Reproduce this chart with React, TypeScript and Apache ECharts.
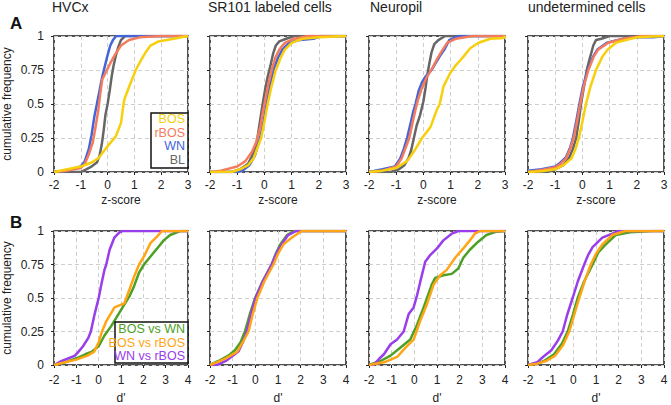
import React, { useEffect, useRef } from "react";
import * as echarts from "echarts";

const FONT = "'Liberation Sans', Arial, Helvetica, sans-serif";

// ---- labels ----
const panelTitles = ["HVCx", "SR101 labeled cells", "Neuropil", "undetermined cells"];
const zNames = ["BOS", "rBOS", "WN", "BL"];
const zColors = ["#F7CF0C", "#F47B5C", "#4465D9", "#666666"];
const dNames = ["BOS vs WN", "BOS vs rBOS", "WN vs rBOS"];
const dColors = ["#4CA025", "#FFA515", "#993EEA"];
const yTickLabels = ["0", "0.25", "0.5", "0.75", "1"];

// ---- Row A: z-score cumulative curves [x, y] ----
const hvcxBOS = [[-2,0],[-1.5,0.02],[-1,0.04],[-0.6,0.07],[-0.35,0.1],[0,0.19],[0.3,0.26],[0.5,0.36],[0.56,0.45],[0.62,0.53],[0.77,0.61],[0.93,0.69],[1.05,0.75],[1.24,0.82],[1.42,0.88],[1.6,0.93],[1.9,0.96],[2.46,0.98],[3,1]];
const hvcxRBOS = [[-2,0],[-1.5,0.01],[-1.0,0.03],[-0.85,0.06],[-0.7,0.13],[-0.55,0.22],[-0.45,0.33],[-0.35,0.45],[-0.27,0.58],[-0.2,0.68],[-0.05,0.74],[0.1,0.8],[0.3,0.87],[0.5,0.93],[0.8,0.97],[1.2,0.99],[2,1],[3,1]];
const hvcxWN = [[-2,0],[-1.5,0.01],[-1.0,0.04],[-0.85,0.08],[-0.7,0.17],[-0.6,0.27],[-0.5,0.4],[-0.4,0.5],[-0.3,0.6],[-0.2,0.7],[-0.1,0.78],[0,0.86],[0.1,0.93],[0.2,0.97],[0.32,1],[3,1]];
const hvcxBL = [[-2,0],[-1,0],[-0.8,0.02],[-0.6,0.04],[-0.4,0.07],[-0.3,0.12],[-0.22,0.2],[-0.15,0.3],[-0.08,0.42],[0,0.5],[0.08,0.6],[0.15,0.7],[0.22,0.78],[0.3,0.85],[0.4,0.92],[0.5,0.97],[0.65,1],[3,1]];

const sr101BOS = [[-2,0],[-1.2,0],[-0.9,0.02],[-0.6,0.05],[-0.4,0.1],[-0.25,0.18],[-0.12,0.25],[0,0.37],[0.12,0.5],[0.25,0.62],[0.42,0.75],[0.6,0.84],[0.75,0.9],[1.0,0.95],[1.4,0.98],[2,0.99],[3,1]];
const sr101RBOS = [[-2,0],[-1.6,0.01],[-1.0,0.04],[-0.7,0.08],[-0.45,0.15],[-0.3,0.22],[-0.15,0.33],[-0.05,0.45],[0.05,0.55],[0.15,0.65],[0.27,0.75],[0.4,0.84],[0.55,0.9],[0.75,0.95],[1.1,0.98],[1.6,1],[3,1]];
const sr101WN = [[-2,0],[-1.0,0],[-0.8,0.01],[-0.55,0.05],[-0.35,0.12],[-0.16,0.25],[-0.02,0.38],[0.08,0.5],[0.2,0.63],[0.33,0.75],[0.5,0.84],[0.66,0.9],[0.9,0.95],[1.3,0.97],[1.8,0.98],[2.1,1],[3,1]];
const sr101BL = [[-2,0],[-1.2,0],[-0.9,0.02],[-0.6,0.06],[-0.4,0.14],[-0.28,0.22],[-0.18,0.35],[-0.08,0.48],[0.02,0.6],[0.12,0.7],[0.22,0.78],[0.32,0.87],[0.42,0.93],[0.55,0.96],[0.8,0.98],[1.1,1],[3,1]];

const neuroBOS = [[-2,0],[-1.5,0.01],[-1,0.03],[-0.6,0.08],[-0.35,0.15],[-0.05,0.25],[0.26,0.33],[0.5,0.46],[0.6,0.5],[0.74,0.63],[0.99,0.73],[1.17,0.78],[1.35,0.82],[1.48,0.85],[1.72,0.91],[2.03,0.95],[2.46,0.98],[2.95,0.985],[3,1]];
const neuroRBOS = [[-2,0],[-1.5,0.01],[-1.0,0.04],[-0.8,0.1],[-0.65,0.18],[-0.52,0.25],[-0.4,0.36],[-0.3,0.45],[-0.2,0.53],[-0.05,0.62],[0.13,0.7],[0.32,0.76],[0.5,0.83],[0.62,0.87],[0.87,0.95],[1.2,0.98],[1.8,1],[3,1]];
const neuroWN = [[-2,0],[-1.5,0.02],[-1.05,0.04],[-0.85,0.1],[-0.72,0.17],[-0.6,0.25],[-0.48,0.35],[-0.38,0.44],[-0.29,0.5],[-0.17,0.6],[-0.05,0.66],[0.07,0.7],[0.3,0.75],[0.45,0.8],[0.6,0.85],[0.77,0.9],[0.95,0.97],[1.3,1],[3,1]];
const neuroBL = [[-2,0],[-1.2,0],[-0.9,0.02],[-0.7,0.05],[-0.55,0.1],[-0.45,0.16],[-0.35,0.25],[-0.25,0.34],[-0.12,0.42],[0,0.52],[0.08,0.62],[0.15,0.72],[0.22,0.8],[0.3,0.88],[0.4,0.94],[0.55,0.97],[0.8,1],[3,1]];

const undetBOS = [[-2,0],[-1.5,0.005],[-1,0.02],[-0.7,0.05],[-0.4,0.1],[-0.25,0.17],[-0.13,0.25],[0,0.37],[0.13,0.5],[0.3,0.63],[0.5,0.75],[0.74,0.85],[0.93,0.9],[1.23,0.95],[1.6,0.97],[2.0,0.99],[3,1]];
const undetRBOS = [[-2,0],[-1.5,0.015],[-1,0.035],[-0.8,0.06],[-0.6,0.1],[-0.45,0.17],[-0.32,0.25],[-0.2,0.37],[-0.08,0.5],[0.05,0.63],[0.22,0.75],[0.42,0.85],[0.58,0.9],[0.95,0.95],[1.5,0.98],[2.2,1],[3,1]];
const undetWN = [[-2,0.01],[-1.5,0.02],[-1,0.04],[-0.8,0.07],[-0.6,0.11],[-0.45,0.18],[-0.35,0.25],[-0.23,0.37],[-0.11,0.5],[0.02,0.63],[0.2,0.75],[0.4,0.85],[0.55,0.9],[0.9,0.95],[1.5,0.98],[2,0.99],[2.6,0.99],[3,1]];
const undetBL = [[-2,0],[-1.3,0],[-1,0.02],[-0.7,0.05],[-0.5,0.1],[-0.35,0.17],[-0.23,0.25],[-0.13,0.38],[-0.05,0.5],[0.05,0.62],[0.16,0.75],[0.25,0.82],[0.32,0.87],[0.4,0.93],[0.5,0.97],[0.7,0.98],[1.0,1],[3,1]];

// ---- Row B: d' cumulative curves [x, y] ----
const hvcxBW = [[-2,0],[-1.5,0.02],[-1,0.05],[-0.6,0.08],[-0.3,0.1],[0,0.14],[0.26,0.22],[0.56,0.29],[0.78,0.35],[1.07,0.43],[1.37,0.51],[1.59,0.59],[1.81,0.69],[2.03,0.75],[2.32,0.81],[2.62,0.87],[2.91,0.93],[3.2,0.97],[3.65,1],[4,1]];
const hvcxBR = [[-2,0],[-1.5,0.02],[-1,0.04],[-0.5,0.07],[-0.2,0.1],[0,0.17],[0.15,0.25],[0.35,0.33],[0.71,0.43],[1.15,0.46],[1.37,0.56],[1.59,0.66],[1.81,0.75],[2.03,0.81],[2.32,0.91],[2.62,0.96],[2.84,1],[4,1]];
const hvcxWR = [[-2,0],[-1.65,0.03],[-1.06,0.07],[-0.9,0.1],[-0.7,0.14],[-0.47,0.2],[-0.35,0.25],[-0.18,0.38],[0,0.5],[0.12,0.6],[0.26,0.71],[0.34,0.75],[0.49,0.86],[0.7,0.95],[0.93,0.99],[1.07,1],[4,1]];

const sr101BW = [[-2,0],[-1.63,0.03],[-1.19,0.07],[-0.9,0.11],[-0.65,0.17],[-0.46,0.25],[-0.25,0.375],[-0.01,0.5],[0.32,0.625],[0.72,0.75],[0.9,0.83],[1.1,0.9],[1.4,0.97],[1.7,1],[4,1]];
const sr101BR = [[-2,0],[-1.7,0.02],[-1.3,0.05],[-0.8,0.1],[-0.55,0.17],[-0.3,0.25],[-0.12,0.375],[0.09,0.5],[0.4,0.625],[0.8,0.75],[1.0,0.83],[1.24,0.9],[1.6,0.95],[2.05,1],[4,1]];
const sr101WR = [[-2,0],[-1.7,0],[-1.3,0.03],[-0.75,0.1],[-0.55,0.17],[-0.38,0.25],[-0.2,0.375],[0.01,0.5],[0.33,0.625],[0.72,0.75],[0.95,0.84],[1.16,0.9],[1.45,0.97],[1.8,1],[4,1]];

const neuroBW = [[-2,0],[-1.49,0.03],[-1.05,0.07],[-0.61,0.13],[-0.18,0.19],[0.12,0.3],[0.41,0.43],[0.77,0.6],[0.92,0.65],[1.28,0.67],[1.65,0.68],[1.94,0.72],[2.16,0.8],[2.45,0.86],[2.82,0.92],[3.18,0.97],[3.62,0.995],[4,1]];
const neuroBR = [[-2,0],[-1.34,0.02],[-0.76,0.06],[-0.39,0.13],[-0.03,0.19],[0.26,0.33],[0.55,0.45],[0.85,0.6],[1.14,0.67],[1.43,0.71],[1.8,0.8],[2.16,0.87],[2.45,0.93],[2.67,0.98],[2.9,1],[4,1]];
const neuroWR = [[-2,0],[-1.8,0],[-1.56,0.045],[-1.34,0.08],[-1.05,0.155],[-0.76,0.19],[-0.47,0.25],[-0.25,0.38],[-0.03,0.43],[0.12,0.52],[0.26,0.62],[0.48,0.77],[0.7,0.82],[1.0,0.87],[1.28,0.93],[1.65,0.98],[1.95,1],[4,1]];

const undetBW = [[-2,0],[-1.6,0.01],[-1.3,0.03],[-0.85,0.08],[-0.5,0.16],[-0.25,0.25],[-0.02,0.375],[0.19,0.5],[0.48,0.625],[0.85,0.75],[1.1,0.84],[1.43,0.9],[1.87,0.97],[2.5,0.99],[3.5,1],[4,1]];
const undetBR = [[-2,0],[-1.6,0.01],[-1.2,0.03],[-0.8,0.07],[-0.45,0.15],[-0.18,0.25],[0.04,0.375],[0.26,0.5],[0.5,0.625],[0.77,0.75],[1.0,0.83],[1.28,0.9],[1.72,0.97],[2.3,1],[4,1]];
const undetWR = [[-2,0],[-1.6,0.02],[-1.34,0.06],[-0.97,0.11],[-0.69,0.18],[-0.47,0.25],[-0.27,0.375],[-0.03,0.5],[0.2,0.625],[0.48,0.75],[0.65,0.82],[0.85,0.88],[1.28,0.95],[1.72,0.98],[2.0,1],[4,1]];

// curves per panel, in name order (BOS, rBOS, WN, BL) / (BOSvsWN, BOSvsrBOS, WNvsrBOS)
const rowACurves = [
  [hvcxBOS, hvcxRBOS, hvcxWN, hvcxBL],
  [sr101BOS, sr101RBOS, sr101WN, sr101BL],
  [neuroBOS, neuroRBOS, neuroWN, neuroBL],
  [undetBOS, undetRBOS, undetWN, undetBL],
];
const rowBCurves = [
  [hvcxBW, hvcxBR, hvcxWR],
  [sr101BW, sr101BR, sr101WR],
  [neuroBW, neuroBR, neuroWR],
  [undetBW, undetBR, undetWR],
];
const zDrawOrder = [3, 2, 1, 0];
const dDrawOrder = [0, 2, 1];

const colLeft = [52, 210, 369, 528];
const panelW = 136;
const rowTop = [36, 231];
const rowH = [136, 135];

function buildOption() {
  const grid: any[] = [];
  const xAxis: any[] = [];
  const yAxis: any[] = [];
  const series: any[] = [];
  const title: any[] = [];
  for (let r = 0; r < 2; r++) {
    for (let c = 0; c < 4; c++) {
      const idx = r * 4 + c;
      grid.push({
        left: colLeft[c], top: rowTop[r], width: panelW, height: rowH[r],
        show: true, borderColor: "#1a1a1a", borderWidth: 1.5, backgroundColor: "#fff",
        containLabel: false,
      });
      xAxis.push({
        type: "value", gridIndex: idx, min: -2, max: r === 0 ? 3 : 4, interval: 1,
        name: r === 0 ? "z-score" : "d'", nameLocation: "middle", nameGap: r === 0 ? 22 : 27,
        nameTextStyle: { fontFamily: FONT, fontSize: 12, color: "#222" },
        axisLine: { show: false, onZero: false },
        axisTick: { show: true, length: 3, inside: false, lineStyle: { color: "#222", width: 1 } },
        axisLabel: { fontFamily: FONT, fontSize: 12, color: "#222", margin: r === 0 ? 7 : 9 },
        splitLine: { show: true, lineStyle: { color: "#cfcfcf", type: [4, 3], width: 1 } },
      });
      yAxis.push({
        type: "value", gridIndex: idx, min: 0, max: 1, interval: 0.25,
        name: c === 0 ? "cumulative frequency" : "", nameLocation: "middle", nameGap: 41,
        nameTextStyle: { fontFamily: FONT, fontSize: 12, color: "#222" },
        axisLine: { show: false, onZero: false },
        axisTick: { show: true, length: 3, lineStyle: { color: "#222", width: 1 } },
        axisLabel: {
          show: c === 0, fontFamily: FONT, fontSize: 12, color: "#222", margin: 10,
          formatter: (v: number) => yTickLabels[Math.round(v * 4)],
        },
        splitLine: { show: true, lineStyle: { color: "#cfcfcf", type: [4, 3], width: 1 } },
      });
      const curves = r === 0 ? rowACurves[c] : rowBCurves[c];
      const names = r === 0 ? zNames : dNames;
      const colors = r === 0 ? zColors : dColors;
      const order = r === 0 ? zDrawOrder : dDrawOrder;
      order.forEach((k) => {
        series.push({
          type: "line", name: names[k], xAxisIndex: idx, yAxisIndex: idx,
          data: curves[k], showSymbol: false, symbol: "none", clip: true,
          lineStyle: { color: colors[k], width: 2.5 }, itemStyle: { color: colors[k] },
          z: 3,
        });
      });
    }
  }
  const titleLeft = [52, 208, 370, 528];
  panelTitles.forEach((t, i) => {
    title.push({ text: t, left: titleLeft[i], top: 0, padding: 0,
      textStyle: { fontFamily: FONT, fontSize: 14, fontWeight: "normal", color: "#222" } });
  });

  const txt = (text: string, x: number, y: number, color: string, size: number, bold = false, align = "right") => ({
    type: "text", x, y, z: 100,
    style: {
      text, fill: color, font: `${bold ? "bold " : ""}${size}px ${FONT}`,
      align, verticalAlign: "middle", textAlign: align, textVerticalAlign: "middle",
    },
  });
  const graphic: any[] = [
    txt("A", 10, 23, "#111", 17, true, "left"),
    txt("B", 10, 222, "#111", 17, true, "left"),
    { type: "rect", z: 99, shape: { x: 151, y: 113, width: 37, height: 55 },
      style: { fill: "#fff", stroke: "#111", lineWidth: 1.5 } },
    { type: "rect", z: 99, shape: { x: 115, y: 322, width: 73, height: 41 },
      style: { fill: "#fff", stroke: "#111", lineWidth: 1.5 } },
  ];
  const zRows = [119, 132.5, 146, 159.5];
  zNames.forEach((n, i) => graphic.push(txt(n, 185, zRows[i], zColors[i], 12.5)));
  const dRows = [329, 342.5, 356];
  dNames.forEach((n, i) => graphic.push(txt(n, 185, dRows[i], dColors[i], 12.5)));

  return { animation: false, backgroundColor: "#fff", title, grid, xAxis, yAxis, series, graphic };
}

export default function App() {
  const ref = useRef<HTMLDivElement>(null);
  useEffect(() => {
    if (!ref.current) return;
    const chart = echarts.init(ref.current, undefined, { renderer: "svg" });
    chart.setOption(buildOption() as any);
    return () => chart.dispose();
  }, []);
  return (
    <div
      ref={ref}
      style={{ position: "fixed", left: 0, top: 0, width: 671, height: 405, background: "#fff" }}
    />
  );
}
